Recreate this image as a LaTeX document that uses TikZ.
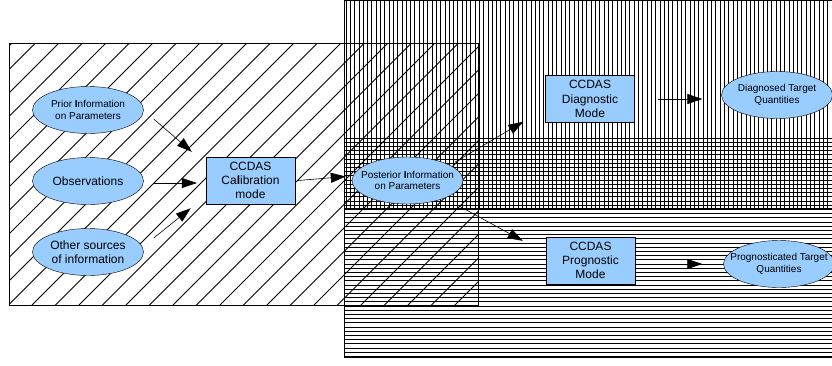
\documentclass[tikz,border=0pt]{standalone}
\usepackage{fontspec}
\setmainfont{Liberation Sans}
\usetikzlibrary{arrows.meta,shapes.geometric,calc}
\definecolor{ellblue}{HTML}{99CCFF}
\newcommand{\bigtxt}{\fontsize{12pt}{14.3pt}\selectfont}
\newcommand{\smalltxt}{\fontsize{10pt}{11.5pt}\selectfont}

\begin{document}
\begin{tikzpicture}[x=1pt,y=-1pt]

	\tikzset{ellnode/.style = {shape=ellipse,draw,fill=ellblue,minimum width=111pt,minimum height=47pt,inner xsep=-25pt,inner ysep=0pt,align=center}}
	\tikzset{boxnode/.style = {shape=rectangle,draw,fill=ellblue,minimum width=89pt,minimum height=47pt,inner sep=0pt,align=center,font=\bigtxt}}
	\tikzset{link/.style = {->,> = {Triangle[length=15pt,width=10pt]},line width=0.6pt}}
	\tikzset{hatch/.style = {line width=0.75pt}}

	\useasboundingbox (0,0) rectangle (832,365);

	\begin{scope}
		\clip (344,0) rectangle (832,208);
		\foreach \x in {346,350.3,...,832} \draw[hatch] (\x,0) -- (\x,208);
	\end{scope}
	\begin{scope}
		\clip (344,138) rectangle (832,357);
		\foreach \y in {138,142.2,...,357} \draw[hatch] (344,\y) -- (832,\y);
	\end{scope}
	\draw[hatch] (344,0) rectangle (833,208);
	\draw[hatch] (344,138) rectangle (833,357);

	\begin{scope}
		\clip (9,43) rectangle (478,305);
		\foreach \c in {-250,-226.5,...,478} \draw[hatch] (\c,305) -- ++(262,-262);
	\end{scope}
	\draw[hatch] (9,43) rectangle (478,305);

	\node[ellnode,font=\smalltxt] (prior) at (88,110) {Prior \textbf{I}nformation\\on Parameters};
	\node[ellnode,font=\bigtxt] (obs) at (88,181) {Observations};
	\node[ellnode,font=\bigtxt] (other) at (88,252) {Other sources\\of information};
	\node[boxnode] (calib) at (250.5,180.5) {CCDAS\\Ca\textbf{l}ibration\\mode};
	\node[ellnode,font=\smalltxt] (post) at (407.5,180.5) {Posterior \textbf{I}nformation\\on Parameters};
	\node[boxnode] (diag) at (590,99) {CCDAS\\Diagnostic\\Mode};
	\node[ellnode,font=\smalltxt] (diagq) at (777,95) {Diagnosed Target\\Quantities};
	\node[boxnode] (prog) at (590.5,260.5) {CCDAS\\Prognostic\\Mode};
	\node[ellnode,font=\smalltxt] (progq) at (779,264) {Prognosticated Target\\Quantities};

	\draw[link] ($(prior.east)+(10,9)$) -- ($(calib.north west)+(-14,-5)$);
	\draw[link] ($(obs.east)+(10,2)$) -- ($(calib.west)+(-9,2.5)$);
	\draw[link] ($(other.east)+(10,-14)$) -- ($(calib.south west)+(-15,4)$);
	\draw[link] ($(calib.east)+(3,0)$) -- ($(post.west)+(-6,-4)$);
	\draw[link] ($(post.east)+(-8,-18.5)$) -- ($(diag.south west)+(-22,-1)$);
	\draw[link] ($(post.east)+(-5,25)$) -- ($(prog.north west)+(-23,4)$);
	\draw[link] ($(diag.east)+(23,0)$) -- ($(diagq.west)+(-19,4)$);
	\draw[link] ($(prog.east)+(23,3.5)$) -- ($(progq.west)+(-21,0)$);
\end{tikzpicture}
\end{document}
